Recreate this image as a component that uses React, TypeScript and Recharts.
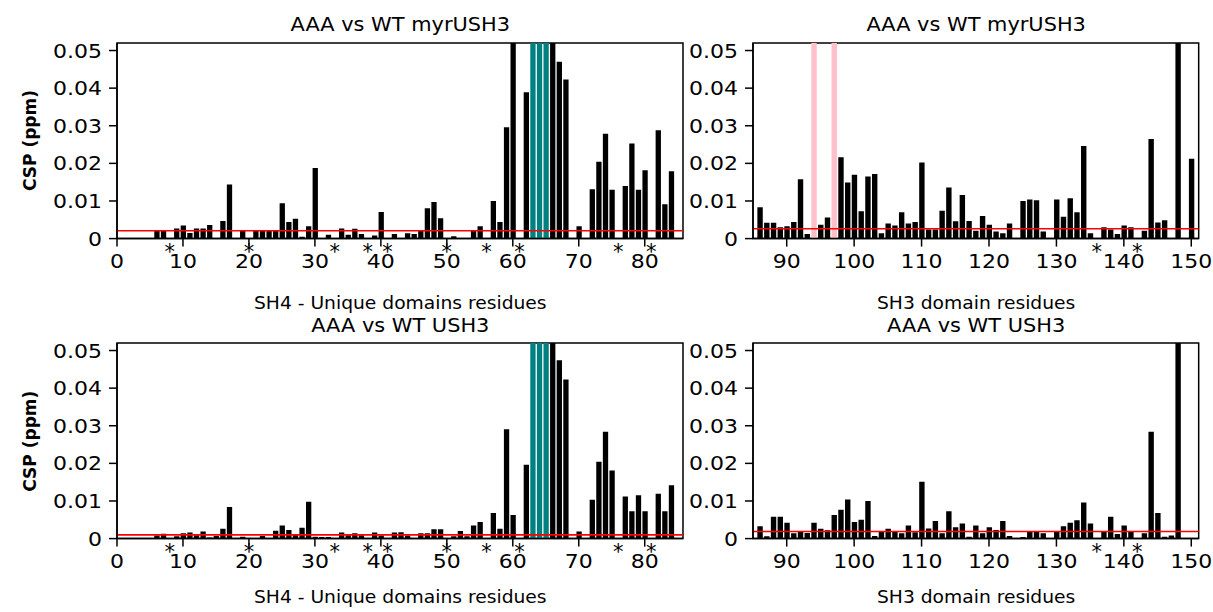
import React from "react";
import {
  BarChart,
  Bar,
  XAxis,
  YAxis,
  Cell,
  ReferenceLine,
  ReferenceDot,
  ReferenceArea,
} from "recharts";

const FONT = "'DejaVu Sans', 'Noto Sans', sans-serif";
const SX = 1.1; // text in the reference is slightly wider than tall

// SH4 - unique domain, AAA vs WT myrUSH3
const tlResidues = [
  6, 7, 9, 10, 11, 12, 13, 14, 16, 17, 19, 21, 22, 23, 24, 25, 26, 27, 28, 29, 30,
  32, 34, 35, 36, 37, 39, 40, 42, 44, 45, 46, 47, 48, 49, 51, 54, 55, 57, 58, 59,
  60, 62, 63, 64, 65, 66, 67, 68, 70, 72, 73, 74, 75, 77, 78, 79, 80, 82, 83, 84,
];
const tlCsp = [
  0.0021, 0.0021, 0.0027, 0.0035, 0.0015, 0.0027, 0.0027, 0.0036, 0.0047, 0.0144,
  0.0021, 0.0021, 0.0021, 0.0021, 0.0021, 0.0094, 0.0044, 0.0053, 0.0005, 0.0033,
  0.0188, 0.001, 0.0027, 0.001, 0.0026, 0.0012, 0.0008, 0.0071, 0.0012, 0.0014,
  0.0012, 0.002, 0.0081, 0.0097, 0.0054, 0.0006, 0.0021, 0.0033, 0.01, 0.0044,
  0.0296, 0.065, 0.0389, 0.08, 0.08, 0.08, 0.07, 0.047, 0.0423, 0.0033, 0.0131,
  0.0204, 0.0279, 0.013, 0.014, 0.0253, 0.013, 0.0182, 0.0288, 0.0091, 0.0179,
];

// SH3 domain, AAA vs WT myrUSH3
const trResidues = [
  86, 87, 88, 89, 90, 91, 92, 93, 94, 95, 96, 97, 98, 99, 100, 101, 102, 103, 104,
  105, 106, 107, 108, 109, 110, 111, 112, 113, 114, 115, 116, 117, 118, 119, 120,
  121, 122, 123, 125, 126, 127, 128, 130, 131, 132, 133, 134, 135, 137, 138, 139,
  140, 141, 143, 144, 145, 146, 148, 150,
];
const trCsp = [
  0.0083, 0.0042, 0.0042, 0.003, 0.0033, 0.0044, 0.0158, 0.0012, 0.08, 0.0037,
  0.0056, 0.08, 0.0216, 0.0149, 0.017, 0.0073, 0.0165, 0.0172, 0.0014, 0.004,
  0.0035, 0.007, 0.004, 0.0044, 0.0202, 0.0024, 0.0024, 0.0074, 0.0136, 0.0046,
  0.0116, 0.0047, 0.0021, 0.006, 0.0037, 0.0019, 0.0014, 0.004, 0.01, 0.0104,
  0.0102, 0.0019, 0.0104, 0.0058, 0.0107, 0.007, 0.0246, 0.0014, 0.003, 0.0024,
  0.0012, 0.0035, 0.003, 0.0021, 0.0265, 0.0043, 0.0049, 0.07, 0.0212,
];

// SH4 - unique domain, AAA vs WT USH3
const blResidues = [
  6, 7, 9, 10, 11, 12, 13, 14, 15, 16, 17, 19, 22, 24, 25, 26, 27, 28, 29, 30, 31,
  32, 34, 35, 36, 37, 39, 40, 42, 43, 44, 46, 47, 48, 49, 51, 52, 53, 54, 55, 57,
  58, 59, 60, 62, 63, 64, 65, 66, 67, 68, 70, 72, 73, 74, 75, 77, 78, 79, 80, 82,
  83, 84,
];
const blCsp = [
  0.0008, 0.0013, 0.0006, 0.0014, 0.0016, 0.0009, 0.0019, 0.0003, 0.0007, 0.0026,
  0.0084, 0.0005, 0.0007, 0.0021, 0.0035, 0.0023, 0.001, 0.0029, 0.0098, 0.0005,
  0.0004, 0.0004, 0.0016, 0.0009, 0.0014, 0.0009, 0.0016, 0.0008, 0.0016, 0.0017,
  0.0008, 0.0014, 0.0014, 0.0025, 0.0025, 0.0006, 0.002, 0.0006, 0.0035, 0.0044,
  0.0068, 0.0026, 0.0291, 0.0063, 0.0196, 0.08, 0.08, 0.08, 0.07, 0.0474, 0.0423,
  0.0019, 0.0103, 0.0204, 0.0284, 0.0181, 0.0112, 0.0073, 0.0115, 0.0073, 0.0119,
  0.0073, 0.0142,
];

// SH3 domain, AAA vs WT USH3
const brResidues = [
  86, 87, 88, 89, 90, 91, 92, 93, 94, 95, 96, 97, 98, 99, 100, 101, 102, 103, 104,
  105, 106, 107, 108, 109, 110, 111, 112, 113, 114, 115, 116, 117, 118, 119, 120,
  121, 122, 123, 125, 126, 127, 128, 130, 131, 132, 133, 134, 135, 137, 138, 139,
  140, 141, 143, 144, 145, 146, 147, 148,
];
const brCsp = [
  0.0033, 0.0006, 0.0058, 0.0058, 0.0042, 0.0014, 0.0019, 0.0015, 0.0042, 0.0026,
  0.0022, 0.0063, 0.0077, 0.0104, 0.0044, 0.005, 0.01, 0.0007, 0.0019, 0.0026,
  0.002, 0.0014, 0.0035, 0.0017, 0.0151, 0.0027, 0.0047, 0.0014, 0.0073, 0.003,
  0.004, 0.0005, 0.0035, 0.0014, 0.003, 0.0023, 0.0047, 0.0007, 0.0004, 0.0019,
  0.0019, 0.0014, 0.0019, 0.0033, 0.0042, 0.0049, 0.0096, 0.004, 0.0019, 0.0058,
  0.0012, 0.0035, 0.0019, 0.0014, 0.0284, 0.0068, 0.0005, 0.0008, 0.07,
];

// highlighted residues and missing (proline) positions
const tealResidues = [63, 64, 65];
const pinkResidues = [94, 97];
const leftStars = [8, 20, 33, 38, 41, 50, 56, 61, 76, 81];
const rightStars = [136, 142];

const leftTicks = [0, 10, 20, 30, 40, 50, 60, 70, 80];
const rightTicks = [90, 100, 110, 120, 130, 140, 150];
const yTicks = [0, 0.01, 0.02, 0.03, 0.04, 0.05];
const Y_MAX = 0.052;

const cutoffs = { tl: 0.0021, tr: 0.0026, bl: 0.001, br: 0.0019 };

const titles = ["AAA vs WT myrUSH3", "AAA vs WT USH3"];
const xLabels = ["SH4 - Unique domains residues", "SH3 domain residues"];
const yLabel = "CSP (ppm)";

const Y_W = 80;
const M_T = 10;
const M_R = 24;
const X_H = 40;
const PLOT_H = 195.6;

const axisStyle = { stroke: "#000", strokeWidth: 1.5 };

function XTick(props: any) {
  const { x, y, payload } = props;
  return (
    <text
      transform={`translate(${x},${y}) scale(${SX},1)`}
      textAnchor="middle"
      dy="0.71em"
      fontSize={20}
      fontFamily={FONT}
      fill="#000"
    >
      {payload.value}
    </text>
  );
}

function YTick(props: any) {
  const { x, y, payload } = props;
  const v = payload.value === 0 ? "0" : Number(payload.value).toFixed(2);
  return (
    <text
      transform={`translate(${x},${y}) scale(${SX},1)`}
      textAnchor="end"
      dy="0.355em"
      fontSize={20}
      fontFamily={FONT}
      fill="#000"
    >
      {v}
    </text>
  );
}

interface PanelProps {
  left: number;
  top: number;
  w: number;
  residues: number[];
  csp: number[];
  highlight: number[];
  hlColor: string;
  domain: [number, number];
  ticks: number[];
  cutoff: number;
  stars: number[];
  barW: number;
}

function CspPanel(p: PanelProps) {
  const data = p.residues.map((r, i) => ({ res: r, csp: p.csp[i] }));
  return (
    <div style={{ position: "absolute", left: p.left - Y_W, top: p.top - M_T }}>
      <BarChart
        width={p.w + Y_W + M_R}
        height={PLOT_H + M_T + X_H}
        data={data}
        margin={{ top: M_T, right: M_R, bottom: 0, left: 0 }}
      >
        <XAxis
          dataKey="res"
          type="number"
          domain={p.domain}
          ticks={p.ticks}
          interval={0}
          allowDataOverflow
          height={X_H}
          tickSize={8}
          tickMargin={7}
          tick={<XTick />}
          axisLine={axisStyle}
          tickLine={axisStyle}
        />
        <YAxis
          type="number"
          domain={[0, Y_MAX]}
          ticks={yTicks}
          interval={0}
          allowDataOverflow
          width={Y_W}
          tickSize={8}
          tickMargin={7}
          tick={<YTick />}
          axisLine={axisStyle}
          tickLine={axisStyle}
        />
        <Bar dataKey="csp" barSize={p.barW} isAnimationActive={false}>
          {data.map((d) => (
            <Cell
              key={d.res}
              fill={p.highlight.includes(d.res) ? p.hlColor : "#000"}
            />
          ))}
        </Bar>
        <ReferenceLine y={p.cutoff} stroke="#ff0000" strokeWidth={1.6} />
        <ReferenceArea
          x1={p.domain[0]}
          x2={p.domain[1]}
          y1={0}
          y2={Y_MAX}
          fill="none"
          fillOpacity={0}
          stroke="#000"
          strokeWidth={1.5}
          strokeOpacity={1}
          ifOverflow="visible"
        />
        {p.stars.map((s) => (
          <ReferenceDot
            key={s}
            x={s}
            y={0}
            r={0}
            ifOverflow="visible"
            shape={(sp: any) => (
              <text
                x={sp.cx}
                y={sp.cy + 20}
                textAnchor="middle"
                fontSize={21}
                fontFamily={FONT}
                fill="#000"
              >
                *
              </text>
            )}
          />
        ))}
      </BarChart>
    </div>
  );
}

function HText({ x, y, text, size, bold }: any) {
  return (
    <text
      transform={`translate(${x},${y}) scale(${SX},1)`}
      textAnchor="middle"
      fontSize={size}
      fontWeight={bold ? "bold" : "normal"}
      fontFamily={FONT}
      fill="#000"
    >
      {text}
    </text>
  );
}

export default function App() {
  const L = { x: 117.3, w: 566 };
  const R = { x: 753.3, w: 445.7 };
  const topY = 42.7;
  const botY = 343.4;
  const lc = L.x + L.w / 2;
  const rc = R.x + R.w / 2;

  return (
    <div
      style={{
        position: "absolute",
        left: 0,
        top: 0,
        width: 1213,
        height: 612,
        background: "#fff",
        overflow: "hidden",
      }}
    >
      <CspPanel
        left={L.x}
        top={topY}
        w={L.w}
        residues={tlResidues}
        csp={tlCsp}
        highlight={tealResidues}
        hlColor="#008080"
        domain={[0, 85.8]}
        ticks={leftTicks}
        cutoff={cutoffs.tl}
        stars={leftStars}
        barW={5.3}
      />
      <CspPanel
        left={R.x}
        top={topY}
        w={R.w}
        residues={trResidues}
        csp={trCsp}
        highlight={pinkResidues}
        hlColor="#ffc0cb"
        domain={[85, 151.1]}
        ticks={rightTicks}
        cutoff={cutoffs.tr}
        stars={rightStars}
        barW={5.4}
      />
      <CspPanel
        left={L.x}
        top={botY}
        w={L.w}
        residues={blResidues}
        csp={blCsp}
        highlight={tealResidues}
        hlColor="#008080"
        domain={[0, 85.8]}
        ticks={leftTicks}
        cutoff={cutoffs.bl}
        stars={leftStars}
        barW={5.3}
      />
      <CspPanel
        left={R.x}
        top={botY}
        w={R.w}
        residues={brResidues}
        csp={brCsp}
        highlight={[]}
        hlColor="#000"
        domain={[85, 151.1]}
        ticks={rightTicks}
        cutoff={cutoffs.br}
        stars={rightStars}
        barW={5.4}
      />
      <svg
        width={1213}
        height={612}
        style={{ position: "absolute", left: 0, top: 0, pointerEvents: "none" }}
      >
        <HText x={lc} y={31} text={titles[0]} size={19} />
        <HText x={rc} y={31} text={titles[0]} size={19} />
        <HText x={lc} y={331.7} text={titles[1]} size={19} />
        <HText x={rc} y={331.7} text={titles[1]} size={19} />
        <HText x={lc} y={309} text={xLabels[0]} size={17} />
        <HText x={rc} y={309} text={xLabels[1]} size={17} />
        <HText x={lc} y={603} text={xLabels[0]} size={17} />
        <HText x={rc} y={603} text={xLabels[1]} size={17} />
        {[topY + PLOT_H / 2, botY + PLOT_H / 2].map((cy) => (
          <text
            key={cy}
            transform={`translate(36,${cy}) rotate(-90)`}
            textAnchor="middle"
            fontSize={17}
            fontWeight="bold"
            fontFamily={FONT}
            fill="#000"
          >
            {yLabel}
          </text>
        ))}
      </svg>
    </div>
  );
}
